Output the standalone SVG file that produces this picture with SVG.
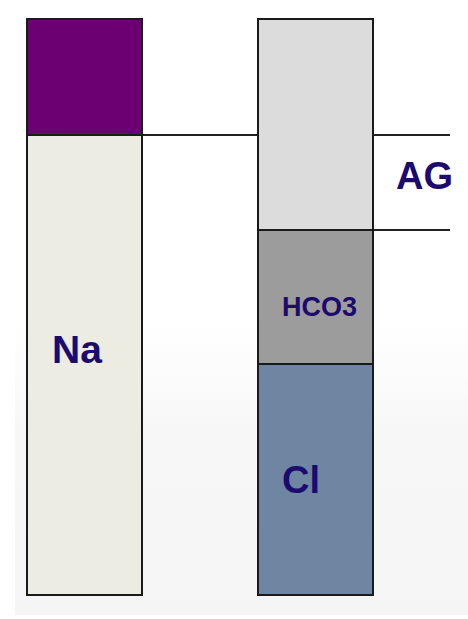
<svg xmlns="http://www.w3.org/2000/svg" width="468" height="619" viewBox="0 0 468 619">
  <defs>
    <linearGradient id="bg" x1="0" y1="0" x2="0" y2="1">
      <stop offset="0" stop-color="#ffffff"/>
      <stop offset="0.4" stop-color="#f7f7f7"/>
      <stop offset="1" stop-color="#f5f5f5"/>
    </linearGradient>
  </defs>
  <style>
    .seg { stroke: #1a1a1a; stroke-width: 2; }
    .lbl { font-family: "Liberation Sans", Arial, sans-serif; font-weight: bold; fill: #1c0a6e; }
    .ln { stroke: #222; stroke-width: 2; fill: none; }
  </style>
  <rect width="468" height="619" fill="#ffffff"/>
  <rect x="15" y="320" width="453" height="295" fill="url(#bg)"/>
  <g id="connectors">
    <line class="ln" x1="142" y1="135" x2="258" y2="135"/>
    <line class="ln" x1="373" y1="135" x2="450" y2="135"/>
    <line class="ln" x1="373" y1="230" x2="450" y2="230"/>
  </g>
  <g id="na-bar">
    <rect class="seg" x="27" y="19" width="115" height="116" fill="#6c0072"/>
    <rect class="seg" x="27" y="135" width="115" height="460" fill="#ecece2"/>
    <text class="lbl" x="52" y="363" font-size="39">Na</text>
  </g>
  <g id="ag">
    <rect class="seg" x="258" y="19" width="115" height="211" fill="#dcdcdc"/>
    <text class="lbl" x="396" y="189" font-size="38">AG</text>
  </g>
  <g id="hco3">
    <rect class="seg" x="258" y="230" width="115" height="134" fill="#9c9c9c"/>
    <text class="lbl" x="282" y="316" font-size="27">HCO3</text>
  </g>
  <g id="cl">
    <rect class="seg" x="258" y="364" width="115" height="231" fill="#6f86a2"/>
    <text class="lbl" x="282" y="493" font-size="38">Cl</text>
  </g>
</svg>
